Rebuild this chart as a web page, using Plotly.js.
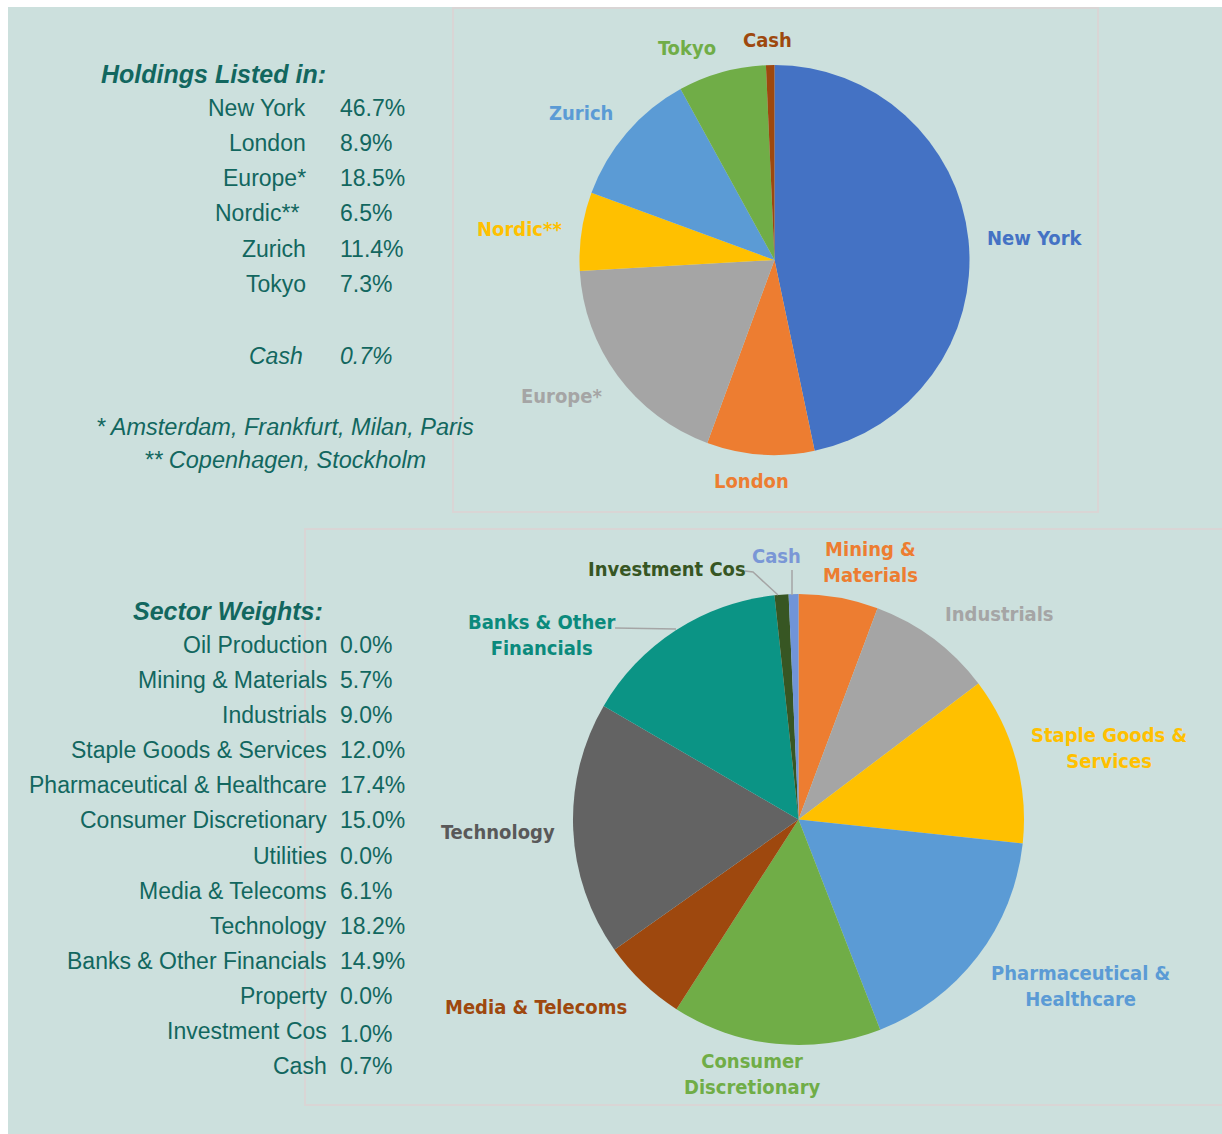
<!DOCTYPE html>
<html>
<head>
<meta charset="utf-8">
<script src="https://cdn.plot.ly/plotly-3.0.1.min.js"></script>
<style>
  html, body { margin: 0; padding: 0; background: #ffffff; }
  #chart { width: 1222px; height: 1134px; }
</style>
</head>
<body>
<div id="chart"></div>
<script>
// holdings by listing place
var geoNames = ["New York", "London", "Europe*", "Nordic**", "Zurich", "Tokyo", "Cash"];
var geoWeights = [46.7, 8.9, 18.5, 6.5, 11.4, 7.3, 0.7];
var geoNotes = ["* Amsterdam, Frankfurt, Milan, Paris", "** Copenhagen, Stockholm"];

// sector weights
var sectorNames = ["Oil Production", "Mining & Materials", "Industrials", "Staple Goods & Services",
  "Pharmaceutical & Healthcare", "Consumer Discretionary", "Utilities", "Media & Telecoms",
  "Technology", "Banks & Other Financials", "Property", "Investment Cos", "Cash"];
var sectorWeights = [0.0, 5.7, 9.0, 12.0, 17.4, 15.0, 0.0, 6.1, 18.2, 14.9, 0.0, 1.0, 0.7];

var W = 1222, H = 1134;
function px(x){ return x / W; }
function py(y){ return 1 - y / H; }

var bg = "#cce0dd";
var ink = "#12675f";
var tableFont = "Liberation Sans, Arial, sans-serif";
var labelFont = "Liberation Sans Narrow, DejaVu Sans Condensed, Roboto Condensed, Roboto, sans-serif";

var geoColors = ["#4472c4", "#ed7d31", "#a5a5a5", "#ffc000", "#5b9bd5", "#70ad47", "#9e480e"];
var geoLabelColors = ["#4472c4", "#ed7d31", "#a5a5a5", "#ffc000", "#5b9bd5", "#70ad47", "#9e480e"];
var geoLabelPos = [[1035, 238], [751, 481], [561, 396], [519, 229], [581, 113], [687, 48], [767, 40]];

// one entry per sector, zero sectors are left out of the pie
var sectorColors = {
  "Mining & Materials": "#ed7d31", "Industrials": "#a5a5a5", "Staple Goods & Services": "#ffc000",
  "Pharmaceutical & Healthcare": "#5b9bd5", "Consumer Discretionary": "#70ad47",
  "Media & Telecoms": "#9e480e", "Technology": "#636363", "Banks & Other Financials": "#0b9485",
  "Investment Cos": "#375623", "Cash": "#7094d8"
};
var sectorLabelColors = {
  "Mining & Materials": "#ed7d31", "Industrials": "#a5a5a5", "Staple Goods & Services": "#ffc000",
  "Pharmaceutical & Healthcare": "#5b9bd5", "Consumer Discretionary": "#70ad47",
  "Media & Telecoms": "#9e480e", "Technology": "#595959", "Banks & Other Financials": "#0b8a7c",
  "Investment Cos": "#375623", "Cash": "#7a97d6"
};
var sectorWrap = {
  "Mining & Materials": "Mining &<br>Materials", "Staple Goods & Services": "Staple Goods &<br>Services",
  "Pharmaceutical & Healthcare": "Pharmaceutical &<br>Healthcare", "Consumer Discretionary": "Consumer<br>Discretionary",
  "Banks & Other Financials": "Banks & Other<br>Financials"
};
var sectorLabelPos = {
  "Mining & Materials": [870, 562], "Industrials": [999, 614], "Staple Goods & Services": [1109, 748],
  "Pharmaceutical & Healthcare": [1080, 986], "Consumer Discretionary": [752, 1074],
  "Media & Telecoms": [536, 1007], "Technology": [498, 832], "Banks & Other Financials": [541, 635],
  "Investment Cos": [667, 569], "Cash": [776, 556]
};

var pieNames = [], pieValues = [], pieColors = [];
for (var i = 0; i < sectorNames.length; i++) {
  if (sectorWeights[i] > 0) {
    pieNames.push(sectorNames[i]);
    pieValues.push(sectorWeights[i]);
    pieColors.push(sectorColors[sectorNames[i]]);
  }
}

var geoPie = {
  type: "pie",
  labels: geoNames,
  values: geoWeights,
  sort: false,
  direction: "clockwise",
  rotation: 0,
  textinfo: "none",
  hoverinfo: "label+percent",
  marker: { colors: geoColors, line: { width: 0 } },
  domain: { x: [px(579), px(970)], y: [py(455), py(65)] },
  showlegend: false
};

var sectorPie = {
  type: "pie",
  labels: pieNames,
  values: pieValues,
  sort: false,
  direction: "clockwise",
  rotation: 0,
  textinfo: "none",
  hoverinfo: "label+percent",
  marker: { colors: pieColors, line: { width: 0 } },
  domain: { x: [px(573), px(1024)], y: [py(1045), py(594)] },
  showlegend: false
};

var ann = [];
function addText(text, x, y, opts) {
  var a = {
    text: text, x: px(x), y: py(y), xref: "paper", yref: "paper",
    showarrow: false, xanchor: opts.anchor || "center", yanchor: "middle",
    font: { family: opts.family || tableFont, size: opts.size || 23, color: opts.color || ink }
  };
  ann.push(a);
}

// left hand tables
addText("<b><i>Holdings Listed in:</i></b>", 99, 74, { anchor: "left", size: 25 });
var geoRowY = [108, 143, 178, 213, 249, 284, 356];
for (var g = 0; g < geoNames.length; g++) {
  var nm = geoNames[g], val = geoWeights[g].toFixed(1) + "%";
  if (nm === "Cash") { nm = "<i>" + nm + "</i>"; val = "<i>" + val + "</i>"; }
  addText(nm, nm.indexOf("Nordic") === 0 ? 301 : (g === 6 ? 305 : 308), geoRowY[g], { anchor: "right" });
  addText(val, 338, geoRowY[g], { anchor: "left" });
}
addText("<i>" + geoNotes[0] + "</i>", 285, 427, { size: 23.5 });
addText("<i>" + geoNotes[1] + "</i>", 285, 460, { size: 23.5 });

addText("<b><i>Sector Weights:</i></b>", 131, 611, { anchor: "left", size: 25 });
for (var s = 0; s < sectorNames.length; s++) {
  var rowY = 645 + s * 35.1 + (sectorNames[s] === "Investment Cos" ? 3 : 0);
  addText(sectorNames[s], 329, 645 + s * 35.1, { anchor: "right" });
  addText(sectorWeights[s].toFixed(1) + "%", 338, rowY, { anchor: "left" });
}

// pie labels
for (var k = 0; k < geoNames.length; k++) {
  addText("<b>" + geoNames[k] + "</b>", geoLabelPos[k][0], geoLabelPos[k][1],
    { family: labelFont, size: 20, color: geoLabelColors[k] });
}
for (var p = 0; p < pieNames.length; p++) {
  var n = pieNames[p];
  addText("<b>" + (sectorWrap[n] || n) + "</b>", sectorLabelPos[n][0], sectorLabelPos[n][1],
    { family: labelFont, size: 20, color: sectorLabelColors[n] });
}

var frame = "#d9d5d5";
var shapes = [
  // white page edges
  { type: "rect", xref: "paper", yref: "paper", x0: 0, x1: 1, y0: py(7), y1: 1, fillcolor: "#ffffff", line: { width: 0 }, layer: "below" },
  { type: "rect", xref: "paper", yref: "paper", x0: 0, x1: px(8), y0: 0, y1: 1, fillcolor: "#ffffff", line: { width: 0 }, layer: "below" },
  // chart object frames
  { type: "rect", xref: "paper", yref: "paper", x0: px(453), x1: px(1098), y0: py(512), y1: py(8), line: { color: frame, width: 2 }, layer: "below" },
  { type: "rect", xref: "paper", yref: "paper", x0: px(305), x1: px(1230), y0: py(1105), y1: py(529), line: { color: frame, width: 2 }, layer: "below" },
  // leader lines
  { type: "path", xref: "paper", yref: "paper", path: "M " + px(745) + " " + py(571) + " L " + px(753) + " " + py(572) + " L " + px(778) + " " + py(595), line: { color: "#a5a5a5", width: 1.5 } },
  { type: "line", xref: "paper", yref: "paper", x0: px(792), x1: px(792), y0: py(570), y1: py(595), line: { color: "#a5a5a5", width: 1.5 } },
  { type: "line", xref: "paper", yref: "paper", x0: px(615), x1: px(676), y0: py(628), y1: py(629), line: { color: "#a5a5a5", width: 1.5 } }
];

var layout = {
  width: W,
  height: H,
  margin: { l: 0, r: 0, t: 0, b: 0 },
  paper_bgcolor: bg,
  plot_bgcolor: bg,
  annotations: ann,
  shapes: shapes
};

Plotly.newPlot("chart", [geoPie, sectorPie], layout, { displayModeBar: false, staticPlot: true });
</script>
</body>
</html>
